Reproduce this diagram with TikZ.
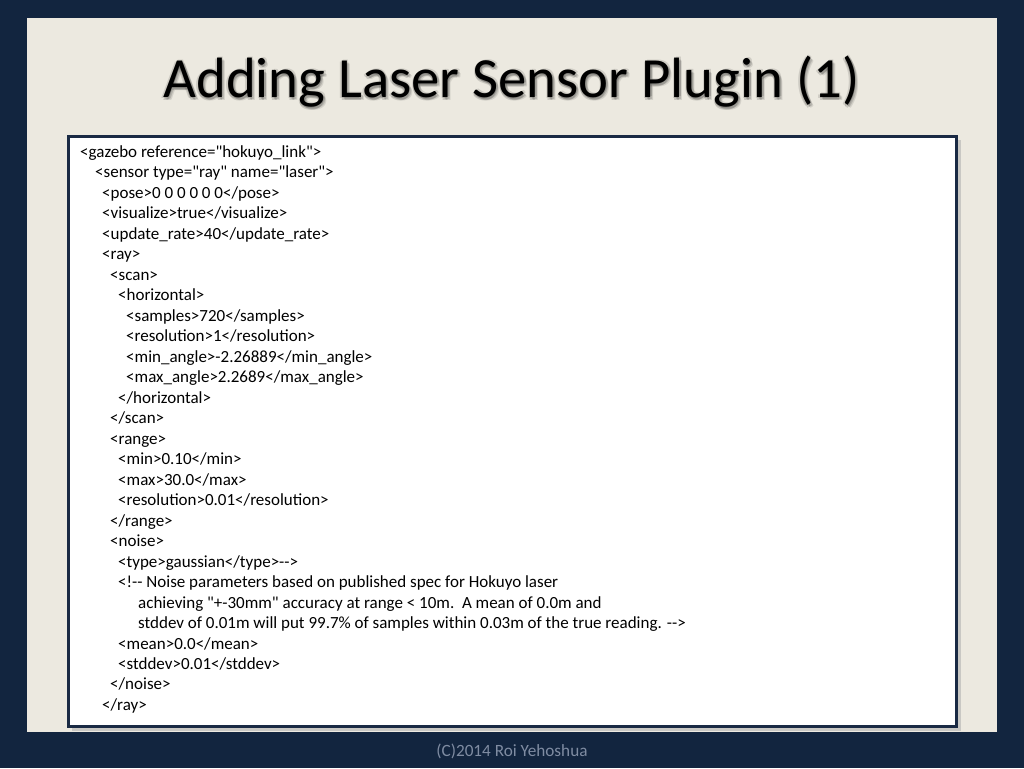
\documentclass[tikz,border=0pt]{standalone}
\usepackage{fontspec}
\setmainfont{Carlito}[Ligatures=TeXOff]
\definecolor{navy}{HTML}{12253F}
\definecolor{panel}{HTML}{ECE9E0}
\definecolor{boxborder}{HTML}{1A2A44}
\definecolor{foot}{HTML}{7F8CA2}
\tikzset{
  code/.style={anchor=base west, inner sep=0pt, font=\fontsize{17}{20}\selectfont, text=black},
  titletext/.style={anchor=base, inner sep=0pt, font=\fontsize{56.8}{60}\selectfont},
}
\begin{document}
\begin{tikzpicture}[x=1pt,y=1pt]
\useasboundingbox (0,0) rectangle (1024,-768);
\fill[navy] (0,0) rectangle (1024,-768);
\fill[panel] (27,-18) rectangle (997,-732);
% title glow
\foreach \dx/\dy/\op in {2/-2/0.14,-1.5/-1/0.12,1.5/1/0.12,0/-3/0.14,3/-3/0.1}{
  \node[titletext, text=black, opacity=\op] at (511.5+\dx,-97+\dy) {Adding Laser Sensor Plugin (1)};
}
\node[titletext, text=black] (title) at (511.5,-97) {Adding Laser Sensor Plugin (1)};
% box shadow
\fill[black!30, opacity=0.6] (72,-140) rectangle (961,-731);
\fill[white] (68,-136) rectangle (956,-726);
\draw[boxborder, line width=3pt] (68,-136) rectangle (956,-726);
\node (box) at (512,-431) {};
% code lines
\def\lh{20.48}
\def\yb{-157.5}
\node[code] (l1) at (80,\yb) {<gazebo reference="hokuyo\_link">};
\node[code] (l2) at (95,\yb-1*\lh) {<sensor type="ray" name="laser">};
\node[code] (l3) at (102,\yb-2*\lh) {<pose>0 0 0 0 0 0</pose>};
\node[code] (l4) at (102,\yb-3*\lh) {<visualize>true</visualize>};
\node[code] (l5) at (102,\yb-4*\lh) {<update\_rate>40</update\_rate>};
\node[code] (l6) at (102,\yb-5*\lh) {<ray>};
\node[code] (l7) at (110,\yb-6*\lh) {<scan>};
\node[code] (l8) at (118,\yb-7*\lh) {<horizontal>};
\node[code] (l9) at (126,\yb-8*\lh) {<samples>720</samples>};
\node[code] (l10) at (126,\yb-9*\lh) {<resolution>1</resolution>};
\node[code] (l11) at (126,\yb-10*\lh) {<min\_angle>-2.26889</min\_angle>};
\node[code] (l12) at (126,\yb-11*\lh) {<max\_angle>2.2689</max\_angle>};
\node[code] (l13) at (118,\yb-12*\lh) {</horizontal>};
\node[code] (l14) at (110,\yb-13*\lh) {</scan>};
\node[code] (l15) at (110,\yb-14*\lh) {<range>};
\node[code] (l16) at (118,\yb-15*\lh) {<min>0.10</min>};
\node[code] (l17) at (118,\yb-16*\lh) {<max>30.0</max>};
\node[code] (l18) at (118,\yb-17*\lh) {<resolution>0.01</resolution>};
\node[code] (l19) at (110,\yb-18*\lh) {</range>};
\node[code] (l20) at (110,\yb-19*\lh) {<noise>};
\node[code] (l21) at (118,\yb-20*\lh) {<type>gaussian</type>-->};
\node[code] (l22) at (118,\yb-21*\lh) {<!-- Noise parameters based on published spec for Hokuyo laser};
\node[code] (l23) at (138,\yb-22*\lh) {achieving "+-30mm" accuracy at range < 10m.\ \ A mean of 0.0m and};
\node[code] (l24) at (138,\yb-23*\lh) {stddev of 0.01m will put 99.7\% of samples within 0.03m of the true reading. -->};
\node[code] (l25) at (118,\yb-24*\lh) {<mean>0.0</mean>};
\node[code] (l26) at (118,\yb-25*\lh) {<stddev>0.01</stddev>};
\node[code] (l27) at (110,\yb-26*\lh) {</noise>};
\node[code] (l28) at (102,\yb-27*\lh) {</ray>};
% footer
\node[anchor=base, inner sep=0pt, text=foot, font=\fontsize{17.2}{20}\selectfont] (footer) at (512,-756) {(C)2014 Roi Yehoshua};
\end{tikzpicture}
\end{document}
